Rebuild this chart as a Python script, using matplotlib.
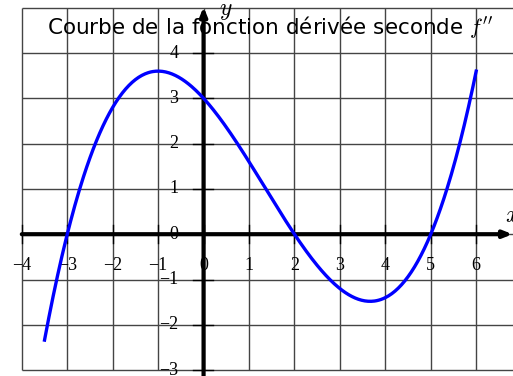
import matplotlib
matplotlib.use("Agg")
import matplotlib.pyplot as plt
import numpy as np

plt.rcParams['mathtext.fontset'] = 'cm'

# f''(x) = a (x - r1)(x - r2)(x - r3)
roots = [-3, 2, 5]
lead = 0.1
x_start, x_end = -3.5, 6

x_ticks = [-4, -3, -2, -1, 0, 1, 2, 3, 4, 5, 6]
y_ticks = [-3, -2, -1, 0, 1, 2, 3, 4]
grid_x = [-4, -3, -2, -1, 0, 1, 2, 3, 4, 5, 6, 7]
grid_y = [-3, -2, -1, 0, 1, 2, 3, 4, 5]

fig = plt.figure(figsize=(5.13, 3.76), dpi=100)
ax = fig.add_axes([0, 0, 1, 1])
ax.set_xlim(-4.48, 6.81)
ax.set_ylim(-3.13, 5.17)
ax.axis('off')

# grid
ax.vlines(grid_x, -3, 5, color='#444444', lw=1.0, zorder=1)
ax.hlines(grid_y, -4, 7, color='#444444', lw=1.0, zorder=1)

# axes with arrows
arrow = dict(arrowstyle='-|>,head_length=0.5,head_width=0.2', lw=3, color='black',
             shrinkA=0, shrinkB=0)
ax.annotate('', xy=(6.8, 0), xytext=(-4, 0), arrowprops=arrow,
            annotation_clip=False, zorder=3)
ax.annotate('', xy=(0, 5.02), xytext=(0, -3.2), arrowprops=arrow,
            annotation_clip=False, zorder=3)

# small tick marks
for t in x_ticks:
    ax.plot([t, t], [-0.2, 0.2], color='black', lw=1.0, zorder=3)
for t in y_ticks:
    ax.plot([-0.24, 0.2], [t, t], color='black', lw=1.0, zorder=3)

serif = 'Liberation Serif'
for t in x_ticks:
    ax.text(t, -0.68, '\u2212%d' % -t if t < 0 else '%d' % t, ha='center', va='center',
            fontsize=13, family=serif, zorder=4)
for t in y_ticks:
    ax.text(-0.55, t, '\u2212%d' % -t if t < 0 else '%d' % t, ha='right', va='center',
            fontsize=13, family=serif, zorder=4)

ax.text(0.48, 4.95, '$y$', fontsize=17, ha='center', va='center', zorder=4)
ax.text(6.8, 0.43, '$x$', fontsize=17, ha='center', va='center', zorder=4)

# curve
x = np.linspace(x_start, x_end, 400)
y = lead * (x - roots[0]) * (x - roots[1]) * (x - roots[2])
ax.plot(x, y, color='#0000ff', lw=2.4, zorder=5)

ax.text(1.46, 4.57, "Courbe de la fonction dérivée seconde $f''$", fontsize=15.5,
        ha='center', va='center', zorder=6)

fig.savefig('out.png', dpi=100)
